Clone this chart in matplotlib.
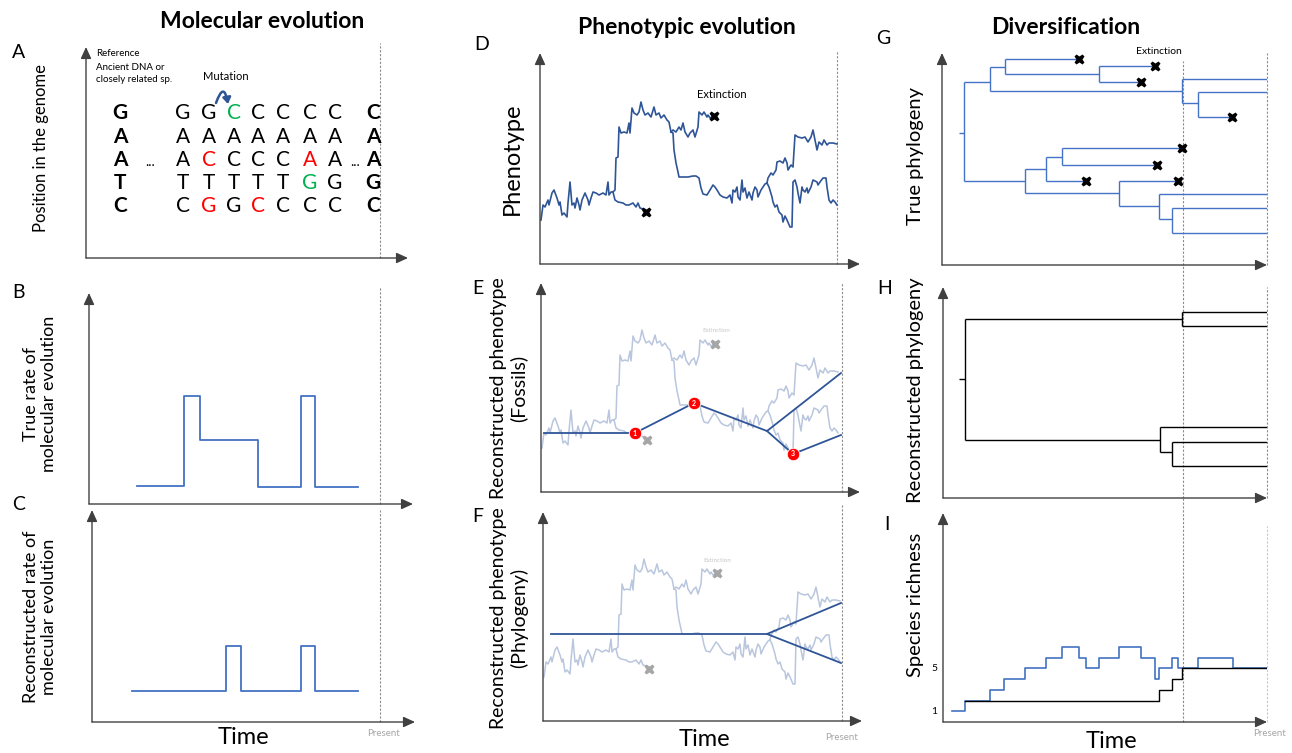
import matplotlib
matplotlib.use("Agg")
import matplotlib.pyplot as plt

plt.rcParams["font.family"] = ["Lato", "DejaVu Sans"]

FIG_W, FIG_H = 1292, 753

AXIS_COLOR = "#404040"
DARK_BLUE = "#2F5597"
MID_BLUE = "#4472C4"
GHOST_BLUE = "#B9C6DE"
GHOST_GREY = "#A6A6A6"
DASH_GREY = "#8C8C8C"
RED = "#FF0000"
GREEN = "#00B050"

# panel frames in pixels: origin x, origin y, arrow tip x, arrow tip y
FRAMES = {
    "A": (86, 258, 408, 47),
    "B": (89, 504, 413, 293),
    "C": (92, 722, 415, 510),
    "D": (540, 264, 860, 53),
    "E": (541, 492, 860, 283),
    "F": (543, 721, 862, 512),
    "G": (942, 265, 1267, 53),
    "H": (943, 498, 1267, 287),
    "I": (943, 722, 1267, 513),
}

# ---- A: sequences through time ----
REF_SEQ = "GAATC"
SEQ_COLUMNS = ["GAATC", "GACTG", "CACTG", "CACTC", "CACTC", "CAAGC", "CAAGC"]
PRESENT_SEQ = "CAAGC"
SEQ_HIGHLIGHT = {(1, 2): RED, (1, 4): RED, (2, 0): GREEN, (3, 4): RED, (5, 2): RED, (5, 3): GREEN}

# ---- B / C: rate of molecular evolution ----
TRUE_RATE_T = [48, 95, 111, 169, 212, 226, 269]
TRUE_RATE = [18, 108, 64, 17, 108, 17]
RECON_RATE_T = [40, 134, 149, 209, 223, 266]
RECON_RATE = [31, 76, 31, 76, 31]

# ---- D: phenotype random walks ----
ROOT_T = [1, 3, 5, 8, 9, 12, 14, 17, 19, 20, 22, 24, 27, 28, 30, 32, 34, 35, 37, 39, 40, 42, 45, 48,
          49, 51, 53, 56, 59, 63, 66, 68, 69, 71, 73]
ROOT_V = [44, 59, 57, 64, 59, 71, 74, 66, 59, 62, 49, 51, 47, 61, 82, 59, 61, 56, 66, 59, 54, 64, 71, 64,
          59, 66, 72, 71, 69, 71, 69, 82, 69, 72, 72]
EXT1_T = [73, 75, 78, 83, 86, 89, 93, 96, 98, 100, 103, 106]
EXT1_V = [72, 64, 62, 61, 59, 59, 61, 57, 61, 56, 55, 52]
UP_T = [73, 75, 76, 78, 79, 81, 84, 87, 89, 90, 92, 94, 97, 99, 101, 103, 105, 108, 111, 114, 116, 119,
        121, 124, 127, 129, 131]
UP_V = [72, 74, 106, 107, 137, 131, 132, 131, 141, 131, 156, 151, 149, 152, 162, 154, 149, 151, 147, 157,
        149, 151, 146, 149, 144, 142, 132]
EXT2_T = [131, 133, 136, 139, 141, 143, 145, 148, 150, 153, 155, 158, 159, 162, 164, 167, 168, 170, 172, 174]
EXT2_V = [132, 134, 132, 137, 134, 141, 132, 127, 131, 134, 127, 137, 152, 149, 152, 147, 149, 146, 147, 148]
MID_T = [131, 133, 134, 136, 138, 139, 143, 148, 153, 156, 159, 161, 163, 167, 170, 173, 175, 177, 180, 183,
         187, 190, 192, 193, 195, 197, 198, 200, 202, 203, 205, 207, 209, 212, 213, 215, 217, 218, 221, 223,
         225, 227]
MID_V = [132, 131, 114, 101, 92, 87, 87, 87, 88, 88, 86, 76, 70, 69, 74, 79, 77, 74, 69, 67,
         66, 69, 61, 74, 72, 77, 67, 64, 84, 72, 76, 66, 72, 64, 71, 77, 74, 67, 74, 77,
         80, 81]
TIP1_T = [227, 228, 231, 233, 236, 237, 240, 243, 245, 247, 248, 251, 253, 255, 258, 262, 265, 268, 271, 273,
          275, 277, 279, 282, 284, 287, 289, 293, 297]
TIP1_V = [81, 86, 91, 89, 94, 102, 103, 101, 106, 101, 94, 99, 97, 129, 127, 126, 127, 122, 127, 134,
          124, 114, 122, 119, 124, 119, 121, 121, 120]
TIP2_T = [227, 229, 232, 233, 235, 237, 239, 242, 243, 245, 247, 250, 252, 253, 255, 257, 258, 260, 262, 263,
          265, 267, 268, 271, 273, 277, 278, 280, 283, 286, 287, 289, 291, 293, 295, 297]
TIP2_V = [81, 77, 67, 62, 57, 59, 52, 49, 42, 48, 44, 37, 37, 82, 84, 77, 71, 61, 77, 74,
          72, 76, 71, 77, 84, 82, 79, 82, 86, 86, 77, 64, 61, 64, 62, 59]
PHENO_BRANCHES = [(ROOT_T, ROOT_V), (EXT1_T, EXT1_V), (UP_T, UP_V), (EXT2_T, EXT2_V),
                  (MID_T, MID_V), (TIP1_T, TIP1_V), (TIP2_T, TIP2_V)]
EXTINCT_T = [106, 174]
EXTINCT_V = [52, 148]

# ---- E / F: reconstructed phenotype ----
FOSSIL_STEM_T = [3, 94, 153, 226, 300]
FOSSIL_STEM_V = [59, 59, 89, 61, 119]
FOSSIL_LOW_T = [226, 252, 300]
FOSSIL_LOW_V = [61, 38, 57]
FOSSIL_T = [94, 153, 252]
FOSSIL_V = [59, 89, 38]
FOSSIL_LABELS = ["1", "2", "3"]
PHYLO_STEM_T = [8, 224, 298]
PHYLO_STEM_V = [87, 87, 118]
PHYLO_LOW_T = [224, 298]
PHYLO_LOW_V = [87, 58]

# ---- G: true phylogeny ----
G_EDGE_START = [17, 22, 48, 240, 240, 256, 256, 48, 63, 63, 157, 157,
                22, 83, 104, 120, 120, 104, 83, 177, 177, 217, 217, 230, 230]
G_EDGE_END = [22, 48, 240, 325, 256, 325, 290, 63, 137, 157, 213, 199,
              83, 104, 120, 240, 215, 144, 177, 236, 217, 325, 230, 325, 325]
G_EDGE_Y = [132, 183, 174, 186, 162, 173, 148, 198, 206, 191, 199, 183,
            84, 96, 108, 117, 100, 84, 72, 84, 59, 71, 46, 57, 32]
G_EXTINCT = [0, 0, 0, 0, 0, 0, 1, 0, 1, 0, 1, 1,
             0, 0, 0, 1, 1, 1, 0, 1, 0, 0, 0, 0, 0]
G_NODE_T = [22, 48, 240, 256, 63, 157, 83, 104, 120, 177, 217, 230]
G_NODE_LO = [84, 174, 162, 148, 191, 183, 72, 84, 100, 59, 46, 32]
G_NODE_HI = [183, 198, 186, 173, 206, 199, 96, 108, 117, 84, 71, 57]

# ---- H: reconstructed phylogeny ----
H_EDGE_START = [16, 22, 239, 239, 22, 217, 217, 229, 229]
H_EDGE_END = [22, 239, 324, 324, 217, 324, 229, 324, 324]
H_EDGE_Y = [119, 179, 186, 172, 58, 71, 46, 56, 32]
H_NODE_T = [22, 239, 217, 229]
H_NODE_LO = [58, 172, 46, 32]
H_NODE_HI = [179, 186, 71, 56]

# ---- I: species richness ----
TRUE_RICH_T = [9, 22, 47, 61, 82, 103, 119, 136, 143, 156, 176, 198, 212, 216, 229, 235, 255, 290, 324]
TRUE_RICH = [1, 2, 3, 4, 5, 6, 7, 6, 5, 6, 7, 6, 4, 5, 6, 5, 6, 5]
RECON_RICH_T = [22, 216, 229, 239, 324]
RECON_RICH = [2, 3, 4, 5]
RICH_PX_PER_SPECIES = 10.75


def fig_text(fig, x, y, s, **kw):
    fig.text(x / FIG_W, 1 - y / FIG_H, s, **kw)


def make_axes(fig, key, yscale=1.0):
    x0, y0, x1, y1 = FRAMES[key]
    ax = fig.add_axes([x0 / FIG_W, 1 - y0 / FIG_H, (x1 - x0) / FIG_W, (y0 - y1) / FIG_H])
    ax.set_xlim(0, x1 - x0)
    ax.set_ylim(0, (y0 - y1) / yscale)
    ax.axis("off")
    arrow = dict(arrowstyle="-|>,head_length=0.7,head_width=0.32", color=AXIS_COLOR, lw=1.0,
                 shrinkA=0, shrinkB=0, mutation_scale=10)
    ax.annotate("", xy=(1, 0), xytext=(0, 0), xycoords="axes fraction", arrowprops=arrow)
    ax.annotate("", xy=(0, 1), xytext=(0, 0), xycoords="axes fraction", arrowprops=arrow)
    return ax


def dashed(ax, t, ymax, color=DASH_GREY):
    ax.axvline(t, ymin=0, ymax=ymax, color=color, lw=0.8, ls=(0, (2, 1.5)), clip_on=False)


def steps(ax, times, values, color, lw=1.3, zorder=2):
    ax.step(times, list(values) + [values[-1]], where="post", color=color, lw=lw, zorder=zorder)


def draw_tree(ax, starts, ends, ys, node_t, node_lo, node_hi, color, lw=1.0):
    ax.hlines(ys, starts, ends, color=color, lw=lw)
    ax.vlines(node_t, node_lo, node_hi, color=color, lw=lw)


def ghost_phenotype(ax, label_xy):
    for times, values in PHENO_BRANCHES:
        ax.plot(times, values, color=GHOST_BLUE, lw=1.1, zorder=1)
    ax.plot(EXTINCT_T, EXTINCT_V, "X", color=GHOST_GREY, ms=7.5, mec="none", zorder=2)
    ax.text(*label_xy, "Extinction", fontsize=4.5, color="#C8C8C8", ha="center", va="center")


fig = plt.figure(figsize=(FIG_W / 100, FIG_H / 100), dpi=100)

# titles and panel letters
fig_text(fig, 262, 22, "Molecular evolution", fontsize=16.5, fontweight="bold", ha="center", va="center")
fig_text(fig, 687, 27, "Phenotypic evolution", fontsize=16.5, fontweight="bold", ha="center", va="center")
fig_text(fig, 1066, 27, "Diversification", fontsize=16.5, fontweight="bold", ha="center", va="center")
for letter, (lx, ly) in {"A": (19, 53), "B": (19, 292), "C": (19, 505), "D": (482, 44), "E": (478, 289),
                         "F": (478, 517), "G": (883, 38), "H": (885, 288), "I": (887, 525)}.items():
    fig_text(fig, lx, ly, letter, fontsize=14, ha="center", va="center")

# ---- A ----
ax = make_axes(fig, "A")
dashed(ax, 294, 1.02)
row_y = [145, 121, 98, 75, 52]
col_t = [97, 123, 148, 172, 197, 224, 249]
for r, y in enumerate(row_y):
    ax.text(34, y, REF_SEQ[r], fontsize=15, fontweight="bold", ha="center", va="center")
    ax.text(287, y, PRESENT_SEQ[r], fontsize=15, fontweight="bold", ha="center", va="center")
    for c, seq in enumerate(SEQ_COLUMNS):
        ax.text(col_t[c], y, seq[r], fontsize=15, ha="center", va="center",
                color=SEQ_HIGHLIGHT.get((c, r), "black"))
ax.text(64, 96, "...", fontsize=10, ha="center", va="center")
ax.text(269, 96, "...", fontsize=10, ha="center", va="center")
ax.text(10, 205, "Reference", fontsize=7, ha="left", va="center")
ax.text(10, 191, "Ancient DNA or", fontsize=7, ha="left", va="center")
ax.text(10, 178, "closely related sp.", fontsize=7, ha="left", va="center")
ax.text(140, 181, "Mutation", fontsize=8, ha="center", va="center")
ax.annotate("", xy=(142, 154), xytext=(130, 155),
            arrowprops=dict(arrowstyle="-|>,head_length=0.45,head_width=0.3", color=DARK_BLUE, lw=1.8,
                            connectionstyle="arc3,rad=-1.9", shrinkA=0, shrinkB=0, mutation_scale=8))
fig_text(fig, 41, 148, "Position in the genome", fontsize=12, rotation=90, ha="center", va="center")

# ---- B ----
ax = make_axes(fig, "B")
dashed(ax, 291, 1.03)
steps(ax, TRUE_RATE_T, TRUE_RATE, MID_BLUE)
fig_text(fig, 40, 394, "True rate of\nmolecular evolution", fontsize=13, rotation=90, ha="center",
         va="center", linespacing=1.15)

# ---- C ----
ax = make_axes(fig, "C")
dashed(ax, 288, 1.0)
steps(ax, RECON_RATE_T, RECON_RATE, MID_BLUE)
fig_text(fig, 40, 617, "Reconstructed rate of\nmolecular evolution", fontsize=13, rotation=90,
         ha="center", va="center", linespacing=1.15)
fig_text(fig, 243, 737, "Time", fontsize=17, ha="center", va="center")
fig_text(fig, 383, 734, "Present", fontsize=7, color=GHOST_GREY, ha="center", va="center")

# ---- D ----
ax = make_axes(fig, "D")
dashed(ax, 297, 1.01)
for times, values in PHENO_BRANCHES:
    ax.plot(times, values, color=DARK_BLUE, lw=1.2, zorder=2)
ax.plot(EXTINCT_T, EXTINCT_V, "X", color="black", ms=7.5, mec="none", zorder=3)
ax.text(182, 169, "Extinction", fontsize=8, ha="center", va="center")
fig_text(fig, 512, 159, "Phenotype", fontsize=17, rotation=90, ha="center", va="center")

# ---- E ----
ax = make_axes(fig, "E")
dashed(ax, 301, 1.0)
ghost_phenotype(ax, (175, 161))
ax.plot(FOSSIL_STEM_T, FOSSIL_STEM_V, color=DARK_BLUE, lw=1.3, zorder=3)
ax.plot(FOSSIL_LOW_T, FOSSIL_LOW_V, color=DARK_BLUE, lw=1.3, zorder=3)
ax.plot(FOSSIL_T, FOSSIL_V, "o", color=RED, ms=9, mec="white", mew=0.6, zorder=4)
for t, v, lab in zip(FOSSIL_T, FOSSIL_V, FOSSIL_LABELS):
    ax.text(t, v, lab, fontsize=5, fontweight="bold", color="white", ha="center", va="center", zorder=5)
fig_text(fig, 509, 388, "Reconstructed phenotype\n(Fossils)", fontsize=14, rotation=90, ha="center",
         va="center", linespacing=1.15)

# ---- F ----
ax = make_axes(fig, "F")
dashed(ax, 299, 1.04)
ghost_phenotype(ax, (174, 161))
ax.plot(PHYLO_STEM_T, PHYLO_STEM_V, color=DARK_BLUE, lw=1.3, zorder=3)
ax.plot(PHYLO_LOW_T, PHYLO_LOW_V, color=DARK_BLUE, lw=1.3, zorder=3)
fig_text(fig, 509, 618, "Reconstructed phenotype\n(Phylogeny)", fontsize=14, rotation=90, ha="center",
         va="center", linespacing=1.15)
fig_text(fig, 704, 740, "Time", fontsize=17, ha="center", va="center")
fig_text(fig, 841, 737, "Present", fontsize=7, color=GHOST_GREY, ha="center", va="center")

# ---- G ----
ax = make_axes(fig, "G")
dashed(ax, 241, 0.96)
dashed(ax, 325, 1.0)
draw_tree(ax, G_EDGE_START, G_EDGE_END, G_EDGE_Y, G_NODE_T, G_NODE_LO, G_NODE_HI, MID_BLUE)
ext_t = [e for e, flag in zip(G_EDGE_END, G_EXTINCT) if flag]
ext_y = [y for y, flag in zip(G_EDGE_Y, G_EXTINCT) if flag]
ax.plot(ext_t, ext_y, "X", color="black", ms=7.5, mec="none", zorder=3)
ax.text(217, 213, "Extinction", fontsize=7.5, ha="center", va="center")
fig_text(fig, 916, 156, "True phylogeny", fontsize=14.5, rotation=90, ha="center", va="center")

# ---- H ----
ax = make_axes(fig, "H")
dashed(ax, 240, 1.105)
dashed(ax, 324, 1.0)
draw_tree(ax, H_EDGE_START, H_EDGE_END, H_EDGE_Y, H_NODE_T, H_NODE_LO, H_NODE_HI, "black")
fig_text(fig, 916, 390, "Reconstructed phylogeny", fontsize=14.5, rotation=90, ha="center", va="center")

# ---- I ----
ax = make_axes(fig, "I", yscale=RICH_PX_PER_SPECIES)
dashed(ax, 240, 1.075)
dashed(ax, 324, 0.94, color="#C8C8C8")
steps(ax, TRUE_RICH_T, TRUE_RICH, MID_BLUE, lw=1.2)
steps(ax, RECON_RICH_T, RECON_RICH, "black", lw=1.0, zorder=3)
for level in (1, 5):
    ax.text(-6, level, str(level), fontsize=7.5, ha="right", va="center")
fig_text(fig, 915, 605, "Species richness", fontsize=14.5, rotation=90, ha="center", va="center")
fig_text(fig, 1111, 742, "Time", fontsize=17, ha="center", va="center")
fig_text(fig, 1269, 734, "Present", fontsize=7, color=GHOST_GREY, ha="center", va="center")

fig.savefig("out.png", dpi=100)
